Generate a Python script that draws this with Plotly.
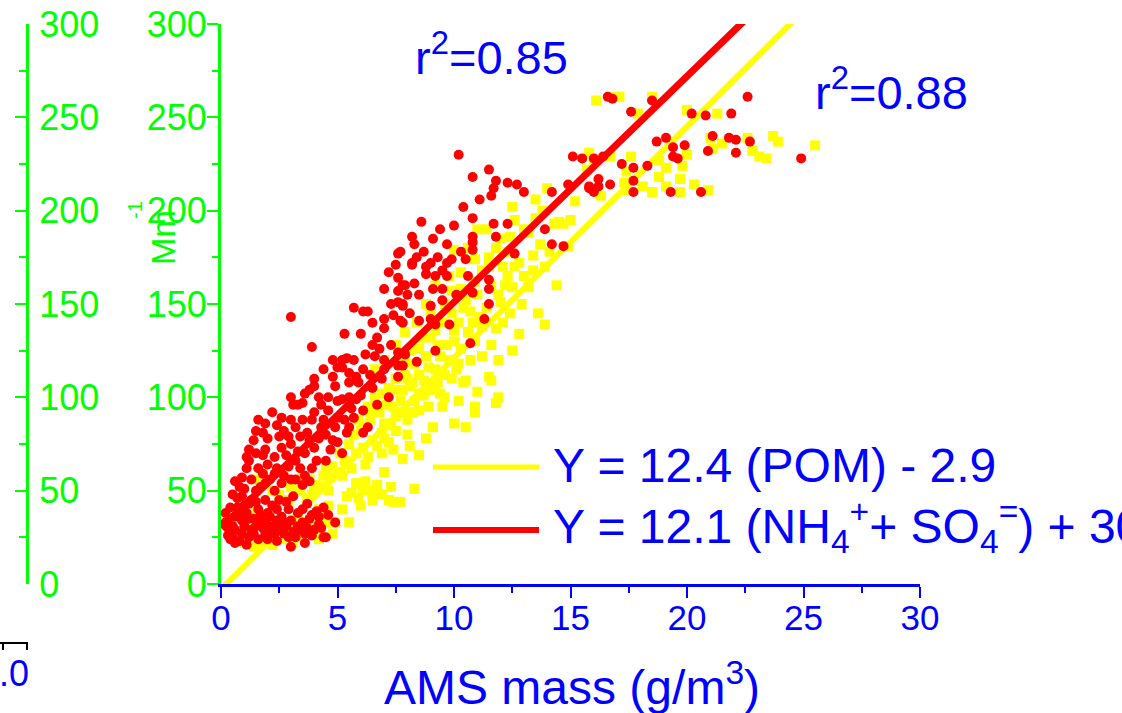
import plotly.graph_objects as go

# ---------------- data ----------------
red_x = [0.4,0.6,0.9,1.1,0.7,0.5,1.0,1.3,1.6,1.5,1.9,2.2,2.4,2.7,3.0,3.3,3.5,3.8,4.2,4.2,4.5,3.0,2.4,2.0,1.2,0.8,2.4,3.9,0.5,3.4,4.9,4.4,4.1,
         0.3,0.6,0.9,1.3,1.7,2.0,2.6,2.8,3.2,3.6,1.0,1.4,1.8,2.1,0.4,0.2,2.9,3.7,4.4,2.5,1.2,0.7,
         0.3,0.5,0.8,1.0,1.2,1.4,1.6,1.7,1.9,2.1,2.3,2.5,2.7,2.9,3.1,3.3,3.5,3.7,3.9,4.0,0.6,1.1,1.5,2.2,2.8,0.2,0.9,4.6,4.3,3.6,
         3.1,3.2,3.8,3.0,3.5,1.5,1.9,1.9,2.3,2.3,1.8,2.6,2.9,1.2,1.5,1.2,1.9,2.3,2.6,3.0,3.3,3.6,4.0,1.4,1.8,1.9,2.2,2.6,2.7,3.2,3.5,3.7,4.3,4.0,3.3,4.6,5.0,5.2,5.4,6.1,6.3,1.8,1.6,6.1,5.5,
         0.9,1.1,2.0,2.5,3.0,4.2,4.8,4.5,3.9,0.6,1.6,2.8,3.4,4.4,5.7,5.0,5.8,
         0.8,1.3,1.7,2.1,2.4,2.7,3.4,3.6,4.1,4.7,5.0,5.3,4.5,3.9,2.9,2.4,2.0,1.5,1.1,3.2,3.8,4.9,5.6,6.0,6.4,7.0,6.8,4.3,3.8,5.0,6.5,7.0,7.3,8.0,8.8,9.5,8.3,9.1,10.0,10.3,10.6,
         3.0,5.7,6.1,6.3,5.3,3.9,7.0,7.0,6.7,7.2,7.6,7.5,7.6,7.8,7.6,7.6,7.8,7.4,7.8,8.2,4.8,5.2,5.4,5.7,6.2,6.6,7.0,7.6,7.9,7.6,7.6,4.4,4.8,4.0,5.2,5.5,5.8,6.1,5.5,5.9,4.0,4.9,3.6,4.2,4.6,3.0,3.1,3.5,5.2,5.5,
         6.5,6.9,7.2,6.7,7.3,6.5,6.0,
         10.2,10.8,11.5,11.8,12.3,12.7,13.0,11.7,11.6,11.1,10.4,10.8,8.6,9.4,11.7,12.3,11.8,8.2,10.8,10.8,10.8,9.7,7.7,8.7,8.4,8.2,9.0,9.3,9.7,9.9,10.5,12.6,13.9,14.2,14.7,14.2,14.9,15.1,15.5,15.8,
         8.8,9.2,9.7,7.9,8.3,8.5,9.1,9.5,10.1,10.8,11.5,11.5,11.5,7.8,9.0,9.5,11.3,8.1,8.5,9.0,9.2,9.8,7.7,10.7,9.2,8.4,7.8,
         16.6,16.8,18.5,17.6,22.6,20.2,20.8,21.9,18.7,19.1,19.4,19.9,19.4,19.6,21.1,21.8,22.1,22.7,20.9,22.1,24.9,16.0,16.4,17.2,17.7,18.3,16.2,15.8,16.0,16.2,16.7,17.7,17.7,19.3,20.6]
red_y = [24,29,34,38,41,48,51,45,40,31,27,31,34,27,34,31,40,35,36,32,25,20,40,38,25,23,23,26,25,29,33,25,39,
         30,36,27,29,34,24,36,31,25,27,31,35,30,28,41,33,40,43,41,45,43,46,
         26,31,38,42,35,27,24,37,33,36,27,30,33,25,28,38,33,30,37,29,22,21,44,42,44,38,47,37,30,22,
         47,56,55,56,53,50,45,54,50,59,59,54,63,66,70,72,72,68,73,75,71,70,73,77,81,86,92,89,82,84,88,81,84,92,96,93,89,70,81,93,84,69,88,81,84,
         57,62,64,79,88,78,77,66,62,55,62,69,79,88,89,98,99,
         52,56,52,56,62,58,62,58,66,72,76,88,80,88,79,85,78,82,68,66,77,84,94,101,112,115,126,96,104,116,140,158,150,155,170,168,182,185,192,178,165,
         143,148,146,146,134,127,142,137,132,167,177,171,164,160,157,151,149,144,140,172,120,120,121,120,123,122,120,124,123,117,111,115,111,110,116,113,111,115,108,108,106,106,102,100,100,100,96,97,99,100,
         105,110,100,96,128,128,134,
         230,218,222,216,215,214,210,212,208,206,202,196,194,190,193,193,186,186,186,183,179,182,178,178,175,171,172,175,172,174,174,177,190,182,181,210,214,229,228,212,
         166,165,165,160,161,155,158,158,155,156,163,158,150,150,149,152,142,145,141,142,139,139,141,129,125,119,117,
         261,260,259,253,261,252,251,252,237,239,234,235,229,228,240,239,238,237,232,231,228,228,229,225,223,224,217,213,210,213,214,216,210,210,210]

yel_x = [16.1,16.7,17.1,18.5,17.9,20.0,21.3,21.0,21.5,22.6,22.8,23.1,23.4,23.7,23.9,25.5,21.1,15.8,16.7,17.6,18.8,19.1,19.8,20.0,17.4,18.8,19.7,19.1,19.7,20.3,20.9,18.5,18.1,17.4,16.3,15.7,17.3,
         13.5,12.5,12.6,13.5,14.3,14.7,11.4,12.4,13.7,14.1,14.9,16.0,12.3,11.5,10.9,10.0,11.2,10.3,12.3,13.0,12.5,13.2,9.9,10.5,12.0,12.4,11.1,10.8,13.9,12.8,11.8,10.0,9.5,9.0,9.7,8.1,11.2,10.2,11.5,10.5,9.9,9.3,8.7,8.2,11.0,11.9,9.4,8.5,7.8,
         8.1,8.8,9.1,10.4,11.6,11.8,10.9,10.9,10.0,10.5,9.1,9.5,8.5,8.0,8.8,8.1,8.5,8.3,
         7.7,6.7,6.5,6.1,5.6,5.4,5.9,6.5,7.2,5.5,4.9,4.5,4.2,4.2,3.7,3.8,4.3,4.7,4.8,5.3,5.8,6.1,6.5,6.9,7.5,7.2,7.8,8.2,6.3,1.8,1.5,3.5,2.9,2.6,1.8,3.6,4.2,4.8,3.0,3.3,7.4,1.0,1.4,2.2,3.1,
         5.5,6.0,6.4,6.8,7.0,7.4,7.7,6.6,7.2,7.9,8.3,8.8,9.3,8.6,9.8,10.3,7.5,6.2,6.9,7.4,8.0,5.2,4.6,3.9,4.5,5.9,8.9,9.6,10.2,9.2,8.5,7.9,9.9,10.4,11.0,11.6,12.1,12.8,11.8,13.2,13.8,14.5,15.2,14.0,
         5.0,5.6,6.3,6.7,7.0,7.3,7.8,8.3,8.7,9.2,9.6,10.1,10.7,6.1,6.5,7.1,7.6,8.0,8.9,9.4,10.0,10.6,11.2,11.4,10.9,11.5,12.2,11.9,10.3,10.7,9.2,8.5,7.5,6.9,6.2,5.7,5.1,4.4,4.0,3.4,3.0,2.5,2.2,1.5,1.1,2.0,0.8,2.9,3.8,4.6,5.2,6.0,6.9,7.3,6.2,5.8,7.0,12.6,13.4,13.0,
         9.0,9.6,10.2,10.9,11.6,12.1,12.9,13.4,12.0,11.0,10.6,9.8,9.2,8.8,8.4,7.9,7.5,7.0,6.6,11.9,12.5,13.6,14.4,13.9,15.0]
yel_y = [259,261,261,261,252,254,252,239,236,239,232,229,228,240,237,235,233,231,229,229,227,223,224,230,221,218,217,213,210,214,211,210,213,211,208,222,215,
         206,202,195,196,193,193,190,186,182,178,181,227,178,175,174,179,168,167,165,165,159,159,157,152,151,145,143,140,139,134,137,136,140,132,128,125,122,118,111,109,110,108,109,108,103,100,102,102,104,
         106,104,107,108,109,97,95,92,86,84,84,95,93,88,78,74,69,51,
         44,53,50,50,49,47,46,45,45,33,33,33,27,40,46,56,52,57,63,66,70,73,77,81,82,76,67,92,95,61,56,57,45,24,22,24,24,27,31,36,44,22,20,21,22,
         75,82,88,92,86,95,98,100,105,112,118,122,128,132,120,126,90,64,70,72,80,58,50,48,62,88,95,100,98,115,112,119,145,148,155,160,170,172,180,188,200,194,205,212,
         60,62,68,74,78,85,92,98,101,104,112,115,120,85,92,96,104,110,116,122,130,135,138,148,162,170,160,155,158,146,136,126,110,102,93,80,70,58,53,50,52,48,50,38,30,32,26,28,32,42,40,42,48,52,55,54,60,170,176,190,
         145,150,140,130,128,140,150,168,185,190,180,165,160,150,140,135,128,120,115,120,125,145,160,170,195]

# regression fits (slope, intercept) as printed in the legend
pom_slope, pom_icpt = 12.4, -2.9
ion_slope, ion_icpt = 12.1, 30.0
x_range = [0, 30]
y_range = [0, 300]
x_ticks = [0, 5, 10, 15, 20, 25, 30]
y_ticks = [0, 50, 100, 150, 200, 250, 300]

legend_texts = ["Y = 12.4 (POM) - 2.9",
                "Y = 12.1 (NH<sub>4</sub><sup>+</sup>+ SO<sub>4</sub><sup>=</sup>) + 30"]
r2_texts = ["r<sup>2</sup>=0.85", "r<sup>2</sup>=0.88"]

# ---------------- styling ----------------
W, H = 1122, 713
ML, MR, MT, MB = 27, 202, 24, 129
PW = W - ML - MR
PH = H - MT - MB
FONT = "Liberation Sans, Arial, sans-serif"
GREEN = "#00FF00"
BLUE = "#0000FF"
RED = "#FF0000"
YEL = "#FFFF00"


def px(p):
    return (p - ML) / PW


def py(p):
    return (H - MB - p) / PH


fig = go.Figure()
fig.add_trace(go.Scatter(x=yel_x, y=yel_y, mode="markers",
                         marker=dict(symbol="square", size=10, color=YEL, line=dict(width=0)),
                         showlegend=False))
lx = [x_range[0], x_range[1]]
fig.add_trace(go.Scatter(x=lx, y=[pom_slope * v + pom_icpt for v in lx], mode="lines",
                         line=dict(color=YEL, width=6), showlegend=False))
fig.add_trace(go.Scatter(x=red_x, y=red_y, mode="markers",
                         marker=dict(symbol="circle", size=10, color=RED, line=dict(width=0)),
                         showlegend=False))
fig.add_trace(go.Scatter(x=lx, y=[ion_slope * v + ion_icpt for v in lx], mode="lines",
                         line=dict(color=RED, width=7), showlegend=False))
# dummy trace for the secondary (left) axis
fig.add_trace(go.Scatter(x=[None], y=[None], yaxis="y2", showlegend=False))

fig.update_layout(
    width=W, height=H,
    margin=dict(l=ML, r=MR, t=MT, b=MB, pad=0, autoexpand=False),
    paper_bgcolor="white", plot_bgcolor="white",
    font=dict(family=FONT),
    showlegend=False,
    xaxis=dict(domain=[px(221), 1], range=x_range, tickvals=x_ticks, automargin=False,
               showgrid=False, zeroline=False,
               showline=True, linecolor=BLUE, linewidth=3,
               ticks="outside", ticklen=11, tickwidth=2, tickcolor=BLUE,
               ticklabelstandoff=-10,
               minor=dict(dtick=2.5, ticks="outside", ticklen=6, tickwidth=2, tickcolor=BLUE),
               tickfont=dict(size=35, color=BLUE, family=FONT)),
    yaxis=dict(range=y_range, tickvals=y_ticks, anchor="x", automargin=False,
               showgrid=False, zeroline=False,
               showline=True, linecolor=GREEN, linewidth=3,
               ticks="outside", ticklen=11, tickwidth=2, tickcolor=GREEN,
               ticklabelstandoff=-7,
               minor=dict(dtick=25, ticks="outside", ticklen=6, tickwidth=2, tickcolor=GREEN),
               tickfont=dict(size=36, color=GREEN, family=FONT)),
    yaxis2=dict(range=y_range, tickvals=y_ticks, overlaying="y", anchor="free", position=0,
                side="right", automargin=False,
                showgrid=False, zeroline=False,
                showline=True, linecolor=GREEN, linewidth=3,
                ticks="inside", ticklen=11, tickwidth=2, tickcolor=GREEN,
                ticklabelstandoff=3,
                minor=dict(dtick=25, ticks="inside", ticklen=7, tickwidth=2, tickcolor=GREEN),
                tickfont=dict(size=36, color=GREEN, family=FONT)),
)

ann = []
# Y axis title ("Mm" with a "-1" superscript)
ann.append(dict(text="Mm", textangle=-90, x=px(163), y=py(238),
                xref="paper", yref="paper", xanchor="center", yanchor="middle",
                showarrow=False, font=dict(size=33, color=GREEN, family=FONT)))
ann.append(dict(text="-1", textangle=-90, x=px(135), y=py(210),
                xref="paper", yref="paper", xanchor="center", yanchor="middle",
                showarrow=False, font=dict(size=20, color=GREEN, family=FONT)))
# X axis title
ann.append(dict(text="AMS mass (g/m<sup>3</sup>)", x=px(572), y=py(684),
                xref="paper", yref="paper", xanchor="center", yanchor="middle",
                showarrow=False, font=dict(size=48, color=BLUE, family=FONT)))
# r^2 labels
ann.append(dict(text=r2_texts[0], x=px(413), y=py(54), xref="paper", yref="paper",
                xanchor="left", yanchor="middle", showarrow=False,
                font=dict(size=47, color=BLUE, family=FONT)))
ann.append(dict(text=r2_texts[1], x=px(813), y=py(89), xref="paper", yref="paper",
                xanchor="left", yanchor="middle", showarrow=False,
                font=dict(size=47, color=BLUE, family=FONT)))
# legend texts
ann.append(dict(text=legend_texts[0], x=px(551), y=py(465), xref="paper", yref="paper",
                xanchor="left", yanchor="middle", showarrow=False,
                font=dict(size=48, color=BLUE, family=FONT)))
ann.append(dict(text=legend_texts[1], x=px(551), y=py(526), xref="paper", yref="paper",
                xanchor="left", yanchor="middle", showarrow=False,
                font=dict(size=48, color=BLUE, family=FONT)))
# cut-off fragment at bottom-left
ann.append(dict(text="1.0", x=px(31), y=py(673), xref="paper", yref="paper",
                xanchor="right", yanchor="middle", showarrow=False,
                font=dict(size=36, color=BLUE, family=FONT)))
fig.update_layout(annotations=ann)

shapes = [
    dict(type="line", xref="paper", yref="paper", x0=px(433), x1=px(539), y0=py(467), y1=py(467),
         line=dict(color=YEL, width=5)),
    dict(type="line", xref="paper", yref="paper", x0=px(433), x1=px(539), y0=py(530), y1=py(530),
         line=dict(color=RED, width=6)),
    dict(type="line", xref="paper", yref="paper", x0=px(0), x1=px(28), y0=py(643), y1=py(643),
         line=dict(color="black", width=2)),
    dict(type="line", xref="paper", yref="paper", x0=px(3), x1=px(3), y0=py(642), y1=py(650),
         line=dict(color="black", width=2)),
    dict(type="line", xref="paper", yref="paper", x0=px(27), x1=px(27), y0=py(642), y1=py(650),
         line=dict(color="black", width=2)),
]
fig.update_layout(shapes=shapes)

fig.write_html("out.html",
               config={"displayModeBar": False},
               post_script="document.body.style.margin='0';document.body.style.overflow='hidden';")
